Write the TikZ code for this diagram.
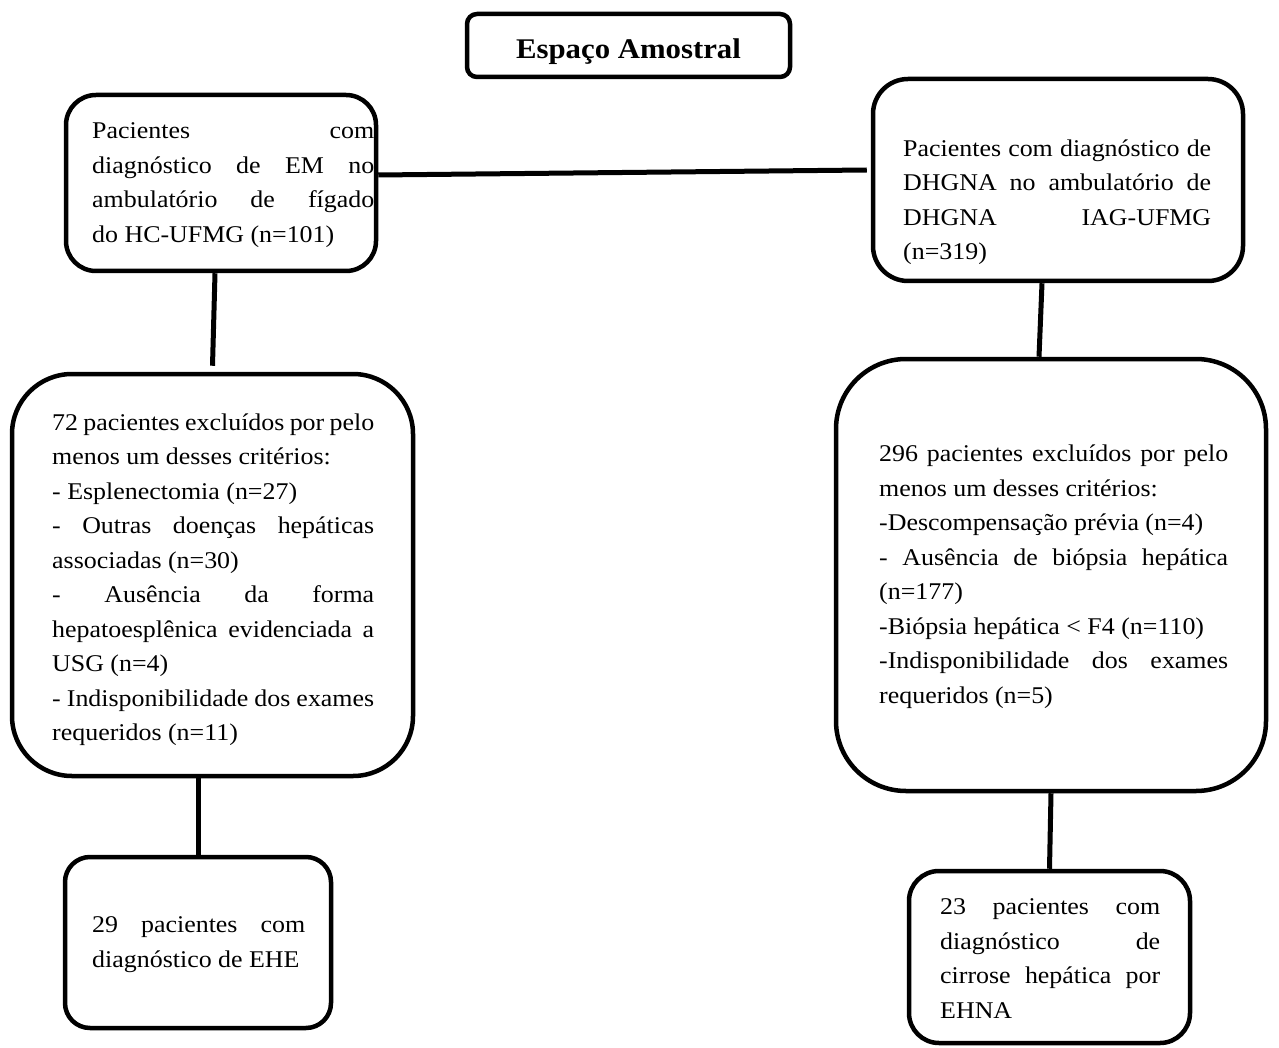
\documentclass[tikz,border=0pt]{standalone}
\usepackage{fontspec}
\setmainfont{Liberation Serif}[FakeStretch=1.08]
\usepackage{tikz}
\usetikzlibrary{calc,positioning}
\tolerance=10000
\hyphenpenalty=10000
\exhyphenpenalty=10000

\begin{document}
\begin{tikzpicture}
		[x=1pt,y=-1pt,
		caixa/.style={draw,line width=4.5pt,fill=white,inner sep=0pt},
		texto/.style={text width=#1,align=justify,inner sep=0pt,anchor=north west,
			font=\fontsize{24}{34.5}\selectfont},
		liga/.style={draw,line width=5pt}]
		\useasboundingbox (0,0) rectangle (1279,1048);
		\node[caixa,rounded corners=10pt,minimum width=323pt,minimum height=63pt,
			text height=27pt,text depth=0pt,font=\fontsize{28.5}{34}\selectfont\bfseries]
			(titulo) at (628.5,45.5) {Espaço Amostral};
		\node[caixa,rounded corners=30pt,minimum width=310pt,minimum height=176pt] (em) at (221,183) {};
		\node[caixa,rounded corners=35pt,minimum width=370pt,minimum height=202pt] (dhgna) at (1058,180) {};
		\node[caixa,rounded corners=60pt,minimum width=401pt,minimum height=402pt] (exclEM) at (212.5,575) {};
		\node[caixa,rounded corners=70pt,minimum width=430pt,minimum height=432pt] (exclDH) at (1051,575) {};
		\node[caixa,rounded corners=25pt,minimum width=266pt,minimum height=171pt] (ehe) at (198,942.5) {};
		\node[caixa,rounded corners=30pt,minimum width=281pt,minimum height=172pt] (cirrose) at (1049.5,957) {};
		\node[texto=282pt] (emTxt) at (92,122.5) {Pacientes com\linebreak
			diagnóstico de EM no\linebreak
			ambulatório de fígado\linebreak
			do HC-UFMG (n=101)};
		\node[texto=308pt] (dhgnaTxt) at (903,139.5) {Pacientes com diagnóstico de\linebreak
			DHGNA no ambulatório de\linebreak
			DHGNA IAG-UFMG\linebreak
			(n=319)};
		\node[texto=322pt] (exclEMTxt) at (52,413.5) {72 pacientes excluídos por pelo\linebreak
			menos um desses critérios:\\
			- Esplenectomia (n=27)\\
			- Outras doenças hepáticas\linebreak
			associadas (n=30)\\
			- Ausência da forma\linebreak
			hepatoesplênica evidenciada a\linebreak
			USG (n=4)\\
			- Indisponibilidade dos exames\linebreak
			requeridos (n=11)};
		\node[texto=349pt] (exclDHTxt) at (879,445) {296 pacientes excluídos por pelo\linebreak
			menos um desses critérios:\\
			-Descompensação prévia (n=4)\\
			- Ausência de biópsia hepática\linebreak
			(n=177)\\
			-Biópsia hepática < F4 (n=110)\\
			-Indisponibilidade dos exames\linebreak
			requeridos (n=5)};
		\node[texto=213pt] (eheTxt) at (92,916.5) {29 pacientes com\linebreak
			diagnóstico de EHE};
		\node[texto=220pt] (cirroseTxt) at (940,898.5) {23 pacientes com\linebreak
			diagnóstico de\linebreak
			cirrose hepática por\linebreak
			EHNA};
		\draw[liga] ($(em.east)+(0,-8)$) -- ($(dhgna.west)+(-4,-10)$);
		\draw[liga] ($(em.south)+(-6,0)$) -- ($(exclEM.north)+(0,-6)$);
		\draw[liga] (ehe.north |- exclEM.south) -- (ehe.north);
		\draw[liga] ($(dhgna.south)+(-16,0)$) -- ($(exclDH.north)+(-12,0)$);
		\draw[liga] (exclDH.south) -- (cirrose.north);
\end{tikzpicture}
\end{document}
